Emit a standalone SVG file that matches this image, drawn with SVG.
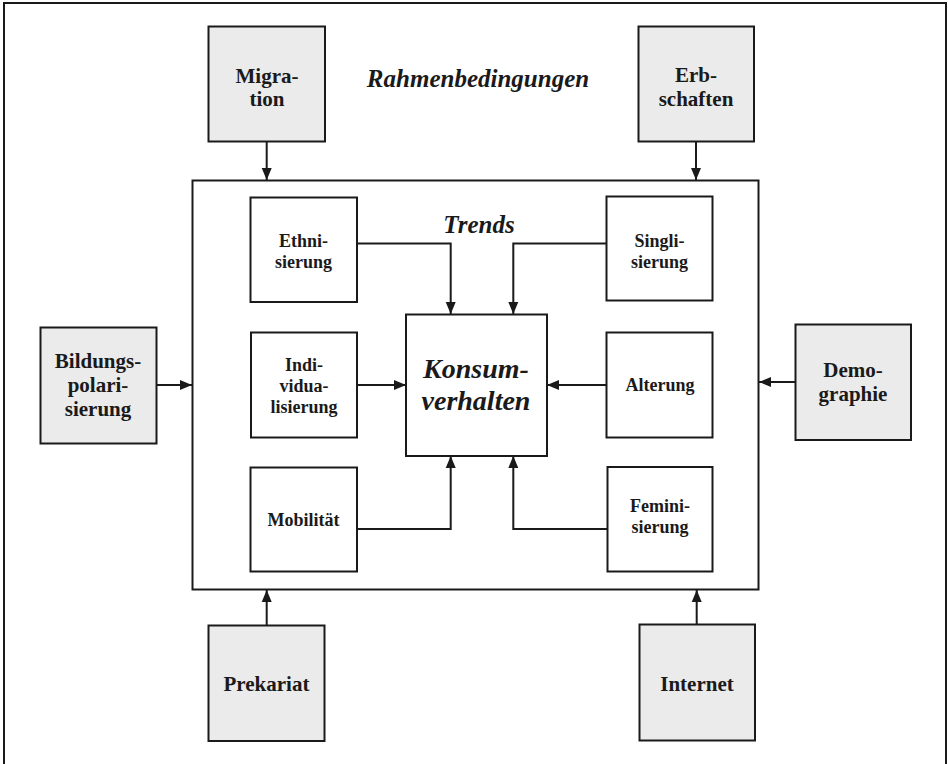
<svg xmlns="http://www.w3.org/2000/svg" width="948" height="764" viewBox="0 0 948 764">
  <style>
    .frame { fill: none; stroke: #1a1a1a; stroke-width: 2; }
    .outer { fill: #ebebeb; stroke: #1a1a1a; stroke-width: 2; }
    .inner { fill: #ffffff; stroke: #1a1a1a; stroke-width: 2; }
    .link { fill: none; stroke: #1a1a1a; stroke-width: 2; marker-end: url(#head); }
    text { font-family: "Liberation Serif", "DejaVu Serif", serif; font-weight: bold; fill: #1a1a1a; text-anchor: middle; }
    .big { font-size: 21px; }
    .small { font-size: 18px; }
    .title { font-size: 25px; font-style: italic; }
    .core { font-size: 28px; font-style: italic; }
  </style>
  <defs>
    <marker id="head" markerUnits="userSpaceOnUse" markerWidth="14" markerHeight="14" viewBox="0 0 14 14" refX="12" refY="7" orient="auto">
      <path d="M0,2 L12,7 L0,12 Z" fill="#1a1a1a"/>
    </marker>
  </defs>

  <rect width="948" height="764" fill="#ffffff"/>

  <!-- page frame and trend frame -->
  <path class="frame" d="M4,764 V3 H946 V764"/>
  <rect class="frame" x="192.5" y="180.5" width="566" height="409"/>

  <text class="title" x="478" y="87">Rahmenbedingungen</text>
  <text class="title" x="479" y="233">Trends</text>

  <!-- framework conditions -->
  <g id="migration">
    <rect class="outer" x="208.5" y="26.5" width="116.5" height="115"/>
    <text class="big" x="267" y="83">Migra-</text>
    <text class="big" x="267" y="106">tion</text>
  </g>
  <g id="erbschaften">
    <rect class="outer" x="638.5" y="26.5" width="115.5" height="115"/>
    <text class="big" x="696" y="82">Erb-</text>
    <text class="big" x="696" y="106">schaften</text>
  </g>
  <g id="bildungspolarisierung">
    <rect class="outer" x="40.5" y="327.5" width="116" height="116"/>
    <text class="big" x="98" y="368">Bildungs-</text>
    <text class="big" x="98" y="392">polari-</text>
    <text class="big" x="98" y="416">sierung</text>
  </g>
  <g id="demographie">
    <rect class="outer" x="795.5" y="324.5" width="115.5" height="115.5"/>
    <text class="big" x="853" y="377">Demo-</text>
    <text class="big" x="853" y="401">graphie</text>
  </g>
  <g id="prekariat">
    <rect class="outer" x="208.5" y="625.5" width="116" height="115.5"/>
    <text class="big" x="266.5" y="691">Prekariat</text>
  </g>
  <g id="internet">
    <rect class="outer" x="639.5" y="624.5" width="115.5" height="116"/>
    <text class="big" x="697" y="691">Internet</text>
  </g>

  <!-- trends -->
  <g id="ethnisierung">
    <rect class="inner" x="250.5" y="197.5" width="106.5" height="104.5"/>
    <text class="small" x="303.5" y="247">Ethni-</text>
    <text class="small" x="303.5" y="268">sierung</text>
  </g>
  <g id="singlisierung">
    <rect class="inner" x="606.5" y="196.5" width="106" height="104"/>
    <text class="small" x="659.5" y="247">Singli-</text>
    <text class="small" x="659.5" y="268">sierung</text>
  </g>
  <g id="individualisierung">
    <rect class="inner" x="251" y="332.5" width="106" height="105"/>
    <text class="small" x="304" y="371">Indi-</text>
    <text class="small" x="304" y="392">vidua-</text>
    <text class="small" x="304" y="413">lisierung</text>
  </g>
  <g id="alterung">
    <rect class="inner" x="606.5" y="332.5" width="106" height="105"/>
    <text class="small" x="660" y="391">Alterung</text>
  </g>
  <g id="mobilitaet">
    <rect class="inner" x="250.5" y="467.5" width="106.5" height="104"/>
    <text class="small" x="303.5" y="526">Mobilität</text>
  </g>
  <g id="feminisierung">
    <rect class="inner" x="607.5" y="467" width="105" height="104.5"/>
    <text class="small" x="660" y="512">Femini-</text>
    <text class="small" x="660" y="533">sierung</text>
  </g>
  <g id="konsumverhalten">
    <rect class="inner" x="406" y="314.5" width="141" height="141.5"/>
    <text class="core" x="476" y="378">Konsum-</text>
    <text class="core" x="476" y="410">verhalten</text>
  </g>

  <!-- connectors -->
  <g id="connectors">
    <path class="link" d="M266.7,142 V180"/>
    <path class="link" d="M696,142 V180"/>
    <path class="link" d="M157,385 H192"/>
    <path class="link" d="M795,382 H759"/>
    <path class="link" d="M266.7,625 V590"/>
    <path class="link" d="M696.7,624 V590"/>
    <path class="link" d="M357,243.5 H450.7 V314"/>
    <path class="link" d="M606.5,243.5 H513.3 V314"/>
    <path class="link" d="M357,385 H406"/>
    <path class="link" d="M606.5,385 H547"/>
    <path class="link" d="M357,529 H450.7 V456"/>
    <path class="link" d="M607.5,529 H513.3 V456"/>
  </g>
</svg>
